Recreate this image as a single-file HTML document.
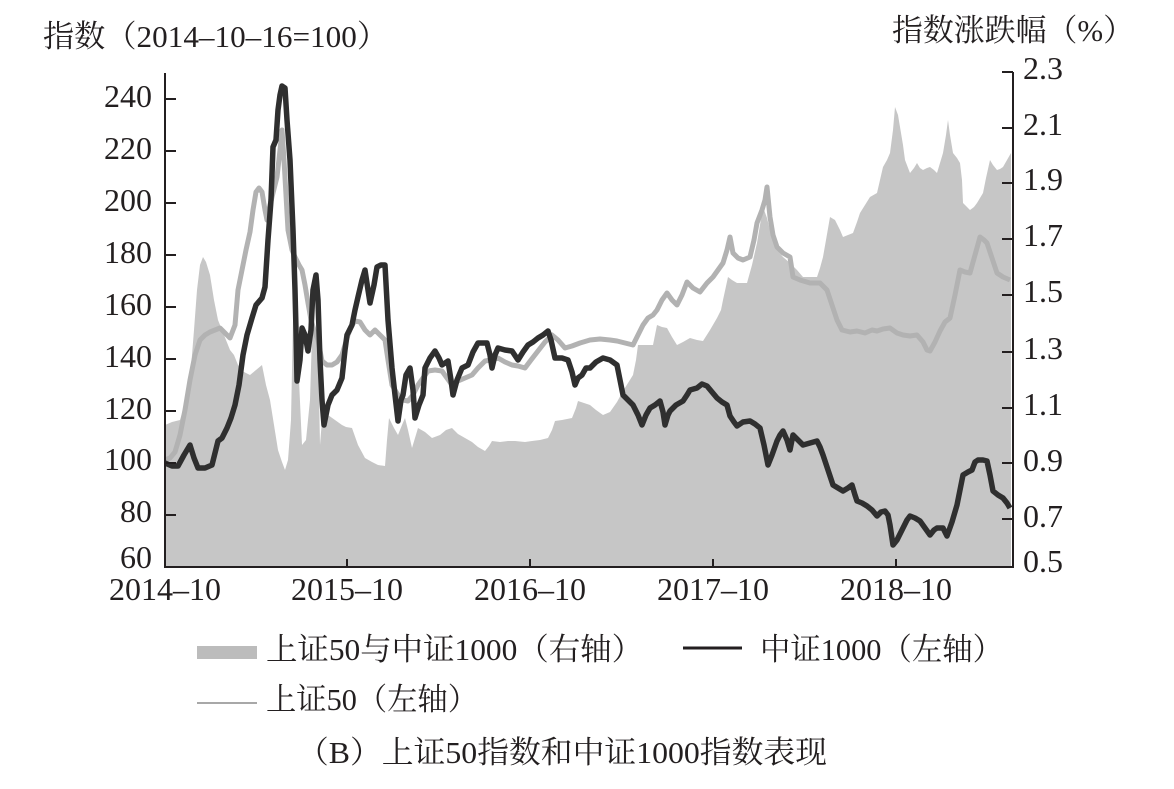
<!DOCTYPE html>
<html>
<head>
<meta charset="utf-8">
<style>
html,body{margin:0;padding:0;background:#fff;}
svg{display:block;}
text{font-family:"Liberation Serif","Noto Serif CJK SC",serif;fill:#231f20;}
</style>
</head>
<body>
<svg width="1174" height="789" viewBox="0 0 1174 789" xmlns="http://www.w3.org/2000/svg">
<rect width="1174" height="789" fill="#fff"/>

<!-- area (right axis) -->
<path fill="#c6c6c6" stroke="none" d="M165,567 L165,425 172,422 180,420 186,400 190,380 194,330 197,290 200,265 203,257 206,262 210,275 214,300 218,320 222,330 226,340 230,350 234,355 238,365 244,372 250,375 256,370 262,365 266,385 270,400 274,425 278,450 282,462 285,470 288,460 291,420 293,320 296,300 299,380 302,445 306,440 310,400 312,335 314,331 318,340 320,445 322,420 328,415 335,420 342,425 346,427 352,428 358,445 365,458 372,462 378,465 385,466 387,440 389,418 394,428 398,435 402,425 405,418 408,430 412,448 415,438 418,428 425,432 432,438 440,435 446,430 452,428 458,434 465,438 472,442 478,447 485,451 489,446 492,441 500,442 508,441 515,441 525,442 532,441 540,440 548,438 552,430 555,421 562,420 572,418 576,408 578,401 584,403 590,405 596,410 603,415 610,412 617,402 623,391 628,383 633,375 636,360 638,345 645,345 653,345 655,335 657,325 662,327 667,328 672,337 677,345 683,342 690,338 697,340 703,341 710,330 717,318 721,310 723,300 728,277 732,280 737,283 742,283 747,283 752,265 757,243 760,225 763,207 767,218 770,230 773,240 777,250 783,257 790,263 797,270 803,277 810,277 817,277 820,268 823,257 826,240 830,217 835,220 840,230 843,237 848,235 853,233 857,222 860,213 865,205 870,197 877,193 880,180 883,167 887,160 890,153 893,130 895,107 898,115 900,127 903,145 905,160 910,173 914,168 917,163 920,168 923,170 927,168 930,167 934,170 937,173 940,163 943,153 946,135 948,120 950,135 953,153 957,158 960,163 962,180 963,203 967,207 970,210 974,207 977,203 980,198 983,193 986,178 990,160 993,165 997,170 1000,169 1003,167 1007,160 1011,153 L1011,567 Z"/>

<!-- 上证50 line -->
<polyline fill="none" stroke="#b2b2b2" stroke-width="5" stroke-linejoin="round" points="165,460 170,458 175,452 180,435 185,410 190,380 195,355 200,340 205,335 210,332 215,330 220,328 225,333 230,338 235,325 238,290 242,270 246,250 250,232 253,210 256,192 259,188 262,192 265,210 267,220 270,205 272,197 275,185 277,177 280,150 282,130 284,160 286,195 288,230 292,250 295,257 299,265 302,270 305,285 308,303 311,320 314,330 318,340 322,361 327,365 332,365 337,362 342,355 345,345 348,335 352,325 355,321 360,322 365,330 370,335 375,330 380,335 385,340 388,360 392,385 398,395 403,400 408,401 413,395 418,385 423,378 428,371 435,370 442,371 447,378 452,385 458,381 465,378 472,375 478,368 485,361 491,360 498,358 505,362 512,365 518,366 525,368 531,360 538,351 545,342 552,335 558,340 565,348 572,346 580,343 590,340 600,339 610,340 617,341 625,343 633,345 638,335 643,325 648,318 653,315 657,310 662,300 667,293 672,300 677,305 682,295 687,282 693,288 700,292 707,283 713,277 718,270 723,263 727,250 730,237 733,253 738,258 743,260 750,257 754,240 757,223 762,210 765,200 767,187 770,217 773,235 777,247 783,253 790,257 793,277 800,280 810,283 820,283 827,290 832,305 837,320 842,330 850,332 857,331 865,333 872,330 877,331 883,329 890,328 897,333 903,335 910,336 917,335 923,342 927,350 930,351 935,342 940,331 945,322 950,318 955,295 960,270 965,272 970,273 975,255 980,237 984,240 987,243 992,258 997,273 1003,277 1010,280"/>

<!-- 中证1000 line -->
<polyline fill="none" stroke="#2f2f2f" stroke-width="5.5" stroke-linejoin="round" points="165,463 172,466 178,466 184,455 190,445 194,458 198,468 205,468 212,465 218,441 222,438 227,428 231,418 235,405 239,385 243,355 247,335 252,318 256,305 262,298 265,287 268,240 271,200 273,147 276,140 278,110 280,95 282,86 285,88 287,120 290,160 293,230 295,290 296,330 297,381 300,360 302,328 305,335 308,351 311,330 313,290 316,275 318,300 320,360 322,400 324,425 328,405 332,395 337,390 342,378 345,350 347,335 352,325 355,310 358,297 362,280 365,270 368,290 370,303 374,285 377,267 381,265 385,265 388,320 392,368 395,395 398,421 401,400 403,395 406,375 410,368 413,390 415,418 419,405 423,395 425,368 430,358 435,351 439,358 442,365 448,361 451,380 453,395 457,380 462,368 468,365 473,352 478,343 487,343 490,355 492,368 495,355 498,348 505,350 512,351 518,360 523,352 528,345 533,342 538,338 543,335 548,331 551,340 555,358 562,358 568,360 572,372 575,385 578,378 582,375 586,368 590,368 596,362 603,358 610,360 617,365 620,380 623,395 628,400 633,405 638,415 642,425 646,415 650,408 655,405 660,401 663,412 665,425 668,415 670,411 676,405 683,401 687,395 690,390 697,388 702,384 707,386 712,392 717,398 722,402 727,405 730,416 734,422 737,426 743,422 750,421 755,424 760,428 764,445 768,465 772,455 777,441 780,435 783,431 787,440 790,450 793,435 798,440 803,445 810,443 817,441 820,447 823,455 828,470 833,485 838,488 843,491 848,488 852,485 855,495 857,501 862,503 867,506 872,510 877,516 881,512 885,511 888,515 890,525 893,545 897,540 903,528 907,520 910,516 915,518 920,521 925,528 930,535 934,530 937,528 943,528 947,536 952,522 957,505 960,490 963,475 968,472 972,470 975,462 978,460 983,460 987,461 990,475 993,491 998,495 1003,498 1007,503 1010,508"/>

<!-- axes -->
<g stroke="#231f20" stroke-width="2" fill="none">
  <line x1="165" y1="73" x2="165" y2="568"/>
  <line x1="164" y1="567" x2="1014" y2="567"/>
  <line x1="1013" y1="72" x2="1013" y2="568"/>
  <!-- left ticks -->
  <line x1="165" y1="99" x2="176" y2="99"/>
  <line x1="165" y1="151" x2="176" y2="151"/>
  <line x1="165" y1="203" x2="176" y2="203"/>
  <line x1="165" y1="255" x2="176" y2="255"/>
  <line x1="165" y1="307" x2="176" y2="307"/>
  <line x1="165" y1="359" x2="176" y2="359"/>
  <line x1="165" y1="411" x2="176" y2="411"/>
  <line x1="165" y1="463" x2="176" y2="463"/>
  <line x1="165" y1="515" x2="176" y2="515"/>
  <!-- right ticks -->
  <line x1="1002" y1="72" x2="1013" y2="72"/>
  <line x1="1002" y1="128" x2="1013" y2="128"/>
  <line x1="1002" y1="183" x2="1013" y2="183"/>
  <line x1="1002" y1="239" x2="1013" y2="239"/>
  <line x1="1002" y1="295" x2="1013" y2="295"/>
  <line x1="1002" y1="352" x2="1013" y2="352"/>
  <line x1="1002" y1="408" x2="1013" y2="408"/>
  <line x1="1002" y1="463" x2="1013" y2="463"/>
  <line x1="1002" y1="519" x2="1013" y2="519"/>
  <!-- bottom ticks -->
  <line x1="347" y1="559" x2="347" y2="567"/>
  <line x1="530" y1="559" x2="530" y2="567"/>
  <line x1="713" y1="559" x2="713" y2="567"/>
  <line x1="896" y1="559" x2="896" y2="567"/>
</g>

<!-- left tick labels -->
<g font-size="32" text-anchor="end">
  <text x="152" y="107">240</text>
  <text x="152" y="159">220</text>
  <text x="152" y="211">200</text>
  <text x="152" y="263">180</text>
  <text x="152" y="315">160</text>
  <text x="152" y="367">140</text>
  <text x="152" y="419">120</text>
  <text x="152" y="470">100</text>
  <text x="152" y="522">80</text>
  <text x="152" y="568">60</text>
</g>

<!-- right tick labels -->
<g font-size="32">
  <text x="1023" y="79">2.3</text>
  <text x="1023" y="135">2.1</text>
  <text x="1023" y="190">1.9</text>
  <text x="1023" y="246">1.7</text>
  <text x="1023" y="302">1.5</text>
  <text x="1023" y="359">1.3</text>
  <text x="1023" y="415">1.1</text>
  <text x="1023" y="471">0.9</text>
  <text x="1023" y="527">0.7</text>
  <text x="1023" y="572">0.5</text>
</g>

<!-- x labels -->
<g font-size="32" text-anchor="middle">
  <text x="165" y="600">2014–10</text>
  <text x="347" y="600">2015–10</text>
  <text x="530" y="600">2016–10</text>
  <text x="713" y="600">2017–10</text>
  <text x="896" y="600">2018–10</text>
</g>

<!-- axis titles -->
<text x="43" y="47" font-size="31" textLength="345" lengthAdjust="spacingAndGlyphs">指数（2014–10–16=100）</text>
<text x="892" y="41" font-size="31" textLength="242" lengthAdjust="spacingAndGlyphs">指数涨跌幅（%）</text>

<!-- legend -->
<rect x="197" y="646" width="60" height="13" fill="#bcbcbc"/>
<text x="266" y="660" font-size="31" textLength="377" lengthAdjust="spacingAndGlyphs">上证50与中证1000（右轴）</text>
<line x1="683" y1="648" x2="742" y2="648" stroke="#231f20" stroke-width="3"/>
<text x="760" y="660" font-size="31" textLength="243" lengthAdjust="spacingAndGlyphs">中证1000（左轴）</text>
<line x1="197" y1="703" x2="257" y2="703" stroke="#a8a8a8" stroke-width="2"/>
<text x="266" y="710" font-size="31" textLength="212" lengthAdjust="spacingAndGlyphs">上证50（左轴）</text>

<!-- caption -->
<text x="297" y="763" font-size="31" textLength="530" lengthAdjust="spacingAndGlyphs">（B）上证50指数和中证1000指数表现</text>
</svg>
</body>
</html>
